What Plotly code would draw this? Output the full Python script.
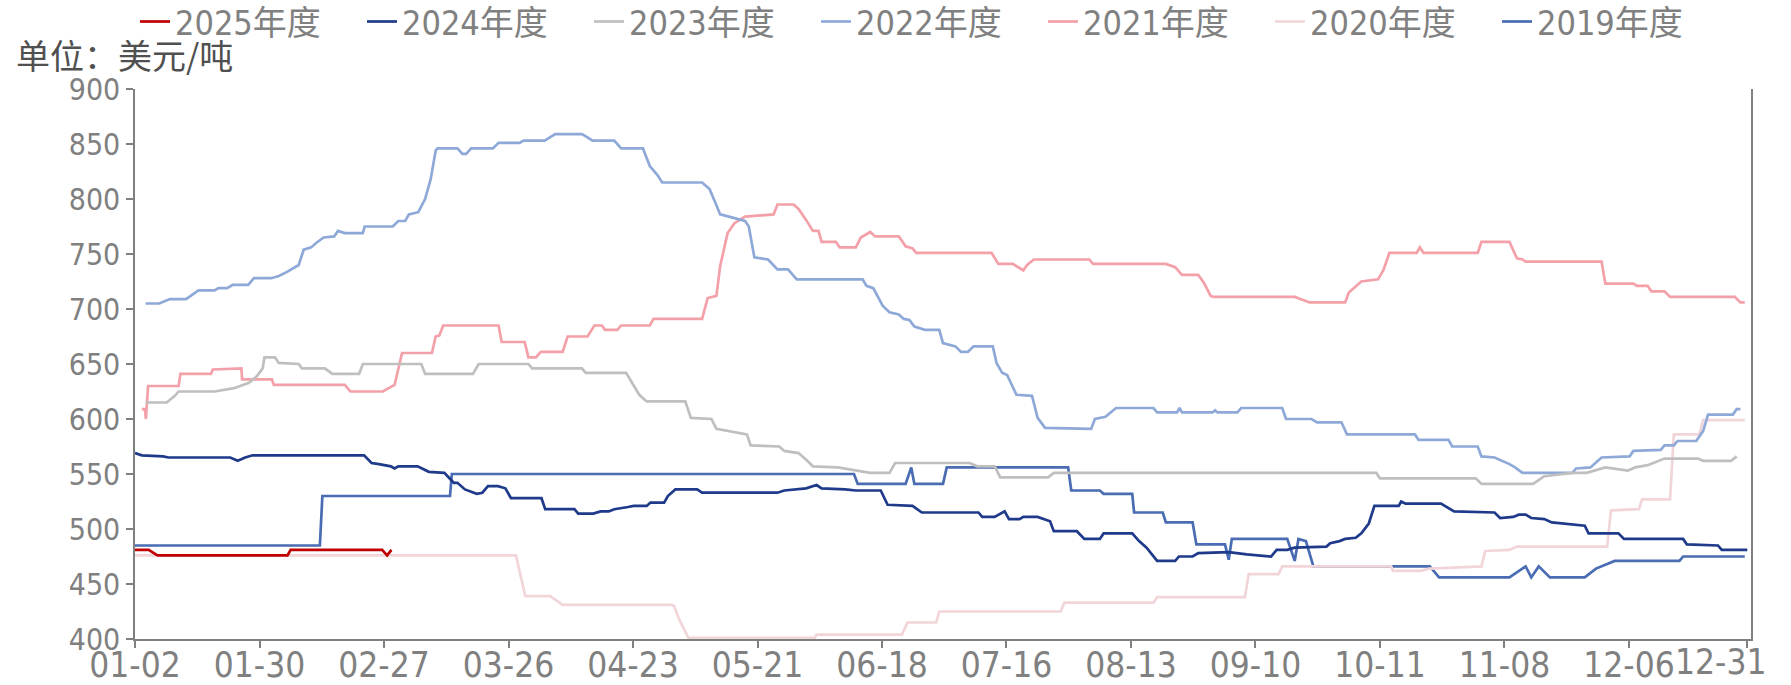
import plotly.graph_objects as go

# x positions are trading-day indices (01-02 = 0, 12-31 = 259)
tick_pos = [0, 20, 40, 60, 80, 100, 120, 140, 160, 180, 200, 220, 240, 259]
tick_labels = ["01-02", "01-30", "02-27", "03-26", "04-23", "05-21", "06-18",
               "07-16", "08-13", "09-10", "10-11", "11-08", "12-06", "12-31"]

x_2025 = [0, 2.2, 3.6, 24.5, 25.0, 39.7, 40.5, 41.2]
y_2025 = [481, 481, 476, 476, 481, 481, 476, 481]

x_2024 = [0, 1.1, 4.5, 5.4, 15.3, 16.5, 17.7, 18.9, 36.8, 38.0, 39.2, 41.1, 41.7, 42.3, 45.4, 47.2,
          49.7, 50.6, 51.2, 51.8, 53.0, 54.9, 55.8, 56.7, 58.3, 59.5, 60.4, 65.3, 65.9, 70.6, 71.2,
          73.6, 74.8, 76.1, 77.0, 79.2, 80.1, 82.2, 82.8, 85.0, 85.6, 86.8, 90.3, 91.1, 103.2, 104.3,
          106.0, 107.8, 109.5, 110.3, 114.1, 115.8, 119.8, 120.9, 124.9, 126.4, 135.5, 136.1, 138.1,
          139.7, 140.4, 142.1, 142.7, 145.0, 147.0, 147.6, 151.3, 152.5, 155.0, 155.6, 160.2, 161.3,
          162.5, 164.2, 167.1, 167.7, 169.9, 170.8, 175.7, 178.6, 182.5, 183.4, 185.1, 186.3, 191.4,
          192.0, 193.5, 194.4, 196.1, 197.0, 198.2, 199.1, 203.0, 203.4, 204.1, 209.8, 211.9, 218.4,
          219.3, 221.4, 222.3, 223.4, 224.3, 226.4, 227.6, 229.7, 232.9, 233.5, 238.3, 239.2, 248.7,
          249.3, 254.3, 254.9, 259]
y_2024 = [569, 567, 566, 565, 565, 562, 565, 567, 567, 560, 559, 557, 555, 557, 557, 552,
          551, 546, 542, 542, 536, 532, 533, 539, 539, 537, 528, 528, 518, 518, 514,
          514, 516, 516, 518, 520, 521, 521, 524, 524, 530, 536, 536, 533, 533, 535,
          536, 537, 540, 537, 536, 535, 535, 522, 521, 515, 515, 511, 511,
          516, 509, 509, 511, 511, 507, 498, 498, 491, 491, 496, 496, 489,
          483, 471, 471, 475, 475, 478, 479, 477, 475, 481, 481, 483, 484,
          487, 489, 491, 492, 496, 505, 521, 521, 525, 523, 523, 516, 515,
          510, 511, 513, 513, 510, 509, 506, 505, 503, 496, 496, 491, 491,
          486, 485, 481, 481]

x_2023 = [1.7, 5.1, 6.4, 7.0, 12.8, 15.9, 18.3, 19.6, 20.5, 20.8, 22.5, 23.1, 26.3, 26.8, 30.5,
          31.7, 36.0, 36.6, 46.0, 46.6, 54.3, 55.2, 63.2, 63.8, 71.8, 72.4, 78.9, 81.0, 82.2, 88.4,
          89.3, 92.6, 93.4, 96.3, 98.3, 98.9, 103.5, 104.3, 106.6, 108.0, 108.9, 112.9, 115.2, 118.1,
          121.2, 122.1, 134.1, 135.3, 138.1, 139.0, 146.7, 147.6, 199.4, 200.0, 215.4, 216.3, 224.6,
          226.4, 230.9, 233.2, 236.2, 239.8, 241.0, 243.0, 245.7, 251.1, 251.9, 256.4, 257.3]
y_2023 = [615, 615, 621, 625, 625, 628, 633, 639, 646, 656, 656, 651, 650, 646, 646,
          641, 641, 650, 650, 641, 641, 650, 650, 646, 646, 642, 642, 622, 616, 616,
          601, 600, 591, 588, 586, 576, 575, 571, 569, 562, 557, 556, 554, 551,
          551, 560, 560, 557, 557, 547, 547, 551, 551, 546, 546, 541, 541,
          548, 551, 551, 556, 553, 556, 558, 564, 564, 562, 562, 566]

x_2022 = [1.7, 3.9, 5.6, 8.2, 10.2, 12.8, 13.4, 14.8, 15.7, 18.2, 19.1, 21.9, 23.1, 24.5, 26.3,
          27.1, 28.3, 29.1, 30.3, 32.0, 32.6, 33.7, 36.6, 36.9, 41.4, 42.3, 43.4, 44.0, 45.5, 46.6,
          47.5, 48.3, 48.6, 51.8, 52.6, 53.2, 54.0, 57.5, 58.4, 61.8, 62.4, 65.8, 67.5, 71.8, 72.7,
          73.5, 77.0, 78.1, 81.6, 82.7, 83.9, 84.7, 91.1, 92.3, 93.2, 94.0, 95.4, 98.0, 98.6, 99.5,
          101.7, 103.2, 104.9, 106.3, 116.9, 117.5, 118.6, 120.1, 121.2, 122.7, 123.5, 124.4, 125.2,
          126.9, 129.2, 129.8, 131.8, 132.7, 133.8, 134.7, 137.8, 138.4, 139.3, 140.1, 141.6, 144.1,
          145.0, 146.2, 153.6, 154.2, 155.9, 157.6, 163.6, 164.2, 167.4, 167.8, 168.2, 173.1, 173.5,
          173.9, 177.1, 177.7, 184.3, 184.9, 189.0, 189.9, 193.8, 194.7, 205.6, 206.2, 211.0, 211.6,
          215.7, 216.3, 218.4, 220.8, 221.7, 222.9, 230.9, 231.5, 233.8, 235.6, 240.1, 240.7, 245.1,
          245.7, 247.2, 247.8, 250.8, 251.9, 252.7, 256.7, 257.3, 257.9]
y_2022 = [705, 705, 709, 709, 717, 717, 719, 719, 722, 722, 728, 728, 730, 734, 740,
          754, 756, 760, 765, 766, 771, 769, 769, 775, 775, 780, 780, 786, 788, 800,
          818, 844, 846, 846, 841, 841, 846, 846, 851, 851, 853, 853, 859, 859, 856,
          853, 853, 846, 846, 830, 822, 815, 815, 809, 797, 786, 784, 780, 775, 747,
          745, 736, 736, 727, 727, 721, 719, 703, 697, 695, 691, 690, 684,
          681, 681, 669, 666, 661, 661, 666, 666, 651, 642, 640, 622, 621,
          601, 592, 591, 600, 602, 610, 610, 606, 606, 610, 606, 606, 608,
          606, 606, 610, 610, 600, 600, 597, 597, 586, 586, 581, 581, 575,
          575, 566, 565, 559, 556, 551, 551, 555, 556, 565, 566, 571, 572,
          576, 576, 580, 580, 589, 604, 604, 609, 609]

x_2021 = [1.1, 1.6, 1.75, 2.1, 7.0, 7.3, 12.2, 12.5, 17.1, 17.2, 22.0, 22.3, 33.7, 34.6, 39.8,
          41.7, 42.9, 47.7, 48.3, 48.9, 49.5, 58.4, 58.9, 62.6, 63.2, 64.4, 65.2, 68.7, 69.5, 72.7,
          73.8, 75.0, 75.5, 77.5, 78.1, 82.7, 83.3, 91.1, 92.0, 93.4, 94.0, 95.2, 96.3, 98.0, 102.6,
          103.2, 105.8, 106.6, 107.8, 108.9, 109.8, 110.3, 112.6, 113.2, 115.8, 116.6, 118.1, 118.9,
          122.7, 123.8, 124.9, 125.5, 137.6, 138.7, 141.0, 142.7, 143.3, 144.4, 153.3, 153.9, 165.6,
          167.1, 168.2, 170.8, 171.7, 172.8, 173.3, 186.3, 188.7, 194.4, 195.0, 197.0, 199.7, 200.6,
          201.5, 205.9, 206.4, 207.0, 215.7, 216.3, 220.8, 222.0, 222.9, 223.4, 235.6, 236.2, 240.7,
          241.3, 243.0, 243.6, 245.7, 246.6, 257.0, 257.9, 258.6]
y_2021 = [609, 609, 600, 630, 630, 641, 641, 645, 646, 636, 636, 631, 631, 625, 625,
          631, 660, 660, 675, 676, 685, 685, 670, 670, 656, 656, 661, 661, 675, 675,
          685, 685, 681, 681, 685, 685, 691, 691, 710, 712, 739, 769, 778, 784, 786,
          795, 795, 791, 781, 771, 771, 761, 761, 756, 756, 765, 770, 766,
          766, 757, 755, 751, 751, 741, 741, 735, 740, 745, 745, 741, 741,
          738, 731, 731, 724, 712, 711, 711, 706, 706, 715, 725, 727, 736,
          751, 751, 756, 751, 751, 761, 761, 746, 745, 743, 743, 723, 723,
          721, 721, 716, 716, 711, 711, 706, 706]

x_2020 = [0, 61.2, 62.7, 66.7, 68.7, 86.2, 86.6, 87.4, 88.9, 109.2, 109.5, 123.2, 124.1, 128.7,
          129.2, 148.7, 149.3, 163.6, 164.2, 178.3, 178.9, 183.7, 184.3, 201.8, 202.1, 206.5, 208.0,
          211.9, 216.3, 216.9, 220.8, 222.0, 236.5, 237.1, 241.6, 242.1, 246.6, 247.2, 251.3, 251.9,
          258.6]
y_2020 = [476, 476, 439, 439, 431, 431, 430, 418, 401, 401, 404, 404, 415, 415,
          425, 425, 433, 433, 438, 438, 459, 459, 466, 466, 462, 462, 464,
          465, 466, 480, 481, 484, 484, 517, 518, 527, 527, 586, 586, 599,
          599]

x_2019 = [0, 29.7, 30.1, 50.6, 50.9, 115.5, 116.1, 123.8, 124.7, 125.2, 129.8, 130.4, 149.9, 150.4,
          155.0, 155.6, 160.2, 160.5, 165.1, 165.6, 169.9, 170.5, 175.1, 175.7, 176.2, 185.1, 186.3,
          186.9, 188.1, 189.3, 208.0, 209.5, 220.8, 223.4, 224.3, 225.5, 227.3, 232.9, 234.7, 237.7,
          248.1, 248.7, 258.6]
y_2019 = [485, 485, 530, 530, 550, 550, 541, 541, 556, 541, 541, 556, 556, 535,
          535, 532, 532, 515, 515, 506, 506, 486, 486, 472, 491, 491, 471,
          491, 489, 466, 466, 456, 456, 466, 456, 466, 456, 456, 464, 471,
          471, 475, 475]

series = [
    ("2025年度", x_2025, y_2025, "#C00000"),
    ("2024年度", x_2024, y_2024, "#1F3A8A"),
    ("2023年度", x_2023, y_2023, "#BFBFBF"),
    ("2022年度", x_2022, y_2022, "#8EA9D8"),
    ("2021年度", x_2021, y_2021, "#F4A0A8"),
    ("2020年度", x_2020, y_2020, "#F2D5D8"),
    ("2019年度", x_2019, y_2019, "#4A6CB3"),
]

FONT = "DejaVu Sans Condensed, Liberation Sans Narrow, Noto Sans CJK SC, sans-serif"
GRAY = "#808080"
XTICK_SIZE = 35

fig = go.Figure()
names = [s[0] for s in series]
# draw older years first so the current year is on top, keep legend order
for name, xs, ys, color in reversed(series):
    fig.add_trace(go.Scatter(x=xs, y=ys, name=name, mode="lines",
                             line=dict(color=color, width=2.7),
                             legendrank=names.index(name) + 1))

# the last date label sits inside the page, pulled left of its tick as in the source
last_label = dict(text=tick_labels[-1], xref="x", yref="paper", x=tick_pos[-1], y=0,
                  xanchor="right", yanchor="top", xshift=21, yshift=-1, showarrow=False,
                  font=dict(size=XTICK_SIZE, color=GRAY, family=FONT))

fig.update_layout(
    width=1791, height=685,
    margin=dict(l=135, r=40, t=89, b=46, autoexpand=False),
    paper_bgcolor="white", plot_bgcolor="white",
    font=dict(family=FONT, color=GRAY),
    showlegend=True,
    legend=dict(orientation="h", x=0.0, xanchor="left", y=1.122, yanchor="middle",
                font=dict(size=34, color=GRAY, family=FONT),
                entrywidth=182, entrywidthmode="pixels",
                traceorder="normal", bgcolor="rgba(0,0,0,0)"),
    annotations=[dict(text="单位：美元/吨", xref="paper", yref="paper",
                      x=-0.0749, y=1.062, xanchor="left", yanchor="middle",
                      showarrow=False,
                      font=dict(size=34, color="#505050", family="Noto Sans CJK SC")),
                 last_label],
)
fig.update_xaxes(range=[0, 259.6], tickmode="array", tickvals=tick_pos,
                 ticktext=tick_labels[:-1] + [""],
                 showgrid=False, zeroline=False, showline=True, linecolor=GRAY, linewidth=1.5,
                 ticks="outside", ticklen=7, tickcolor=GRAY, tickwidth=1.5,
                 ticklabelstandoff=-13,
                 tickfont=dict(size=XTICK_SIZE, color=GRAY, family=FONT))
fig.update_yaxes(range=[400, 900], tickmode="array", tickvals=list(range(400, 901, 50)),
                 showgrid=False, zeroline=False, showline=True, linecolor=GRAY, linewidth=1.5,
                 mirror=True, ticks="outside", ticklen=7, tickcolor=GRAY, tickwidth=1.5,
                 tickfont=dict(size=30, color=GRAY, family=FONT))

fig.write_html("out.html", config={"displayModeBar": False},
               post_script="document.body.style.margin='0';document.body.style.overflow='hidden';")
